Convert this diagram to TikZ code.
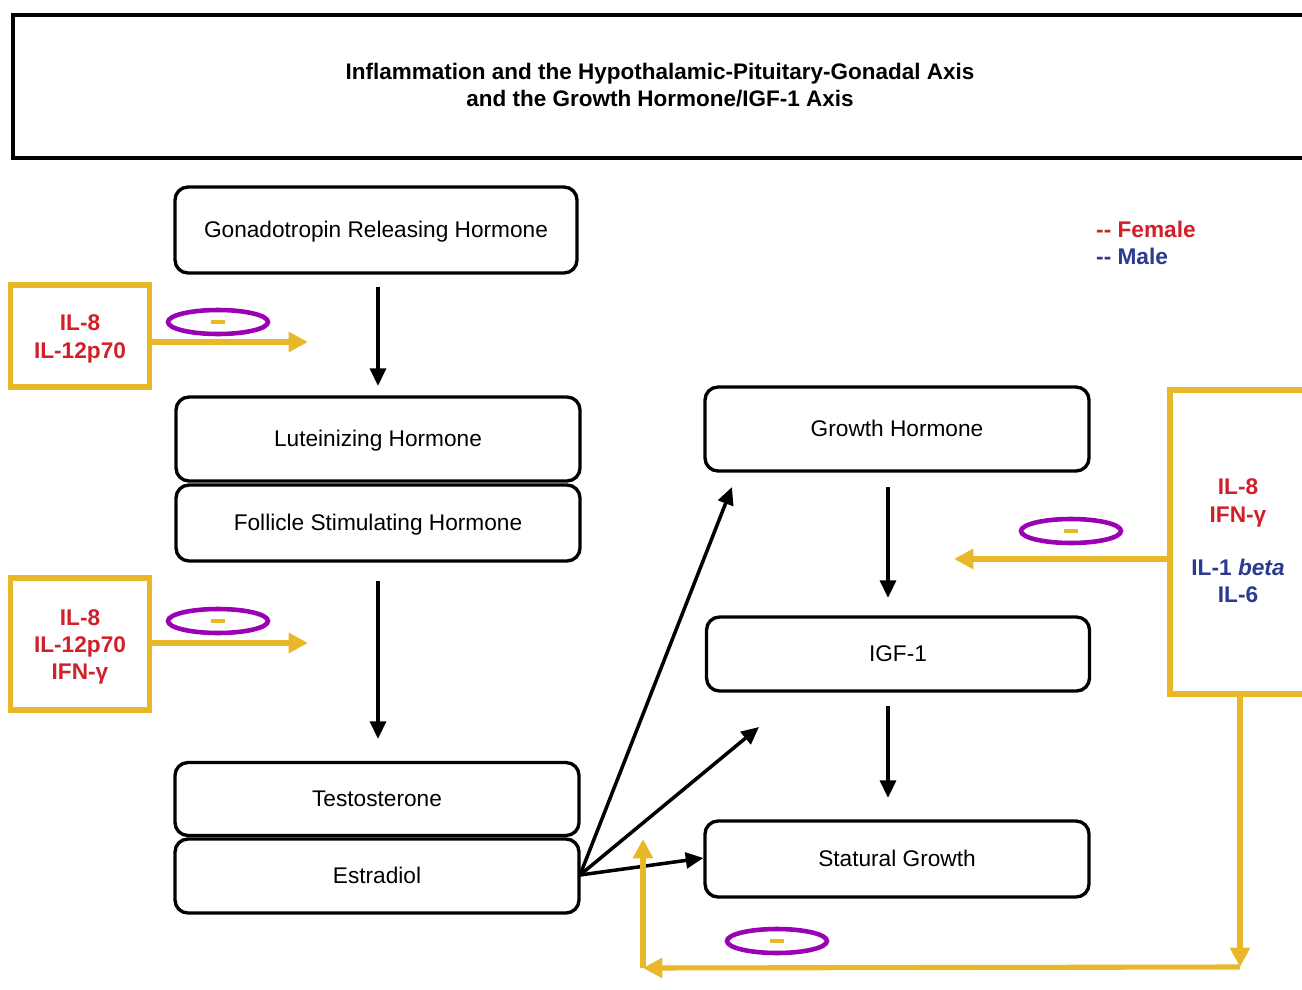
\documentclass[tikz,border=0pt]{standalone}
\usepackage{fontspec}
\setmainfont{Liberation Sans}
\usetikzlibrary{arrows.meta,shapes.geometric}
\definecolor{ygold}{HTML}{E8B828}
\definecolor{ipurple}{HTML}{9A00B4}
\definecolor{fred}{HTML}{D0202A}
\definecolor{mblue}{HTML}{2B3A90}
\tikzset{
  hbox/.style={draw=black, line width=1.9pt, rounded corners=0.26cm, fill=white,
    font=\fontsize{12.9}{15}\selectfont, inner sep=0pt, text height=0.8em, text depth=0pt},
  ybox/.style={draw=ygold, line width=3.4pt, fill=white, inner sep=0pt},
  ytxt/.style={font=\bfseries\fontsize{12.9}{15.5}\selectfont, align=center, text=fred},
  blk/.style={line width=2pt, -{Triangle[length=10pt,width=9pt]}},
  yarr/.style={draw=ygold, line width=2.9pt, -{Triangle[length=11pt,width=11pt]}},
  inhib/.style={draw=ipurple, line width=2.6pt, ellipse, minimum width=2.0cm, minimum height=0.48cm, inner sep=0pt},
  dashmark/.style={fill=ygold, minimum width=0.28cm, minimum height=0.09cm, inner sep=0pt},
  lgd/.style={anchor=west, font=\bfseries\fontsize{12.9}{15}\selectfont}
}
\begin{document}
\begin{tikzpicture}[x=0.02cm, y=-0.02cm]
\clip (0,0) rectangle (1302,990);
\fill[white] (0,0) rectangle (1302,990);
% title
\node[draw=black, line width=2.4pt, minimum width={1400*0.02cm}, minimum height={143*0.02cm}, anchor=north west, inner sep=0pt] (titlebox) at (11,13) {};
\node[font=\bfseries\fontsize{12.8}{15.5}\selectfont, align=center] (title) at (660,85) {Inflammation and the Hypothalamic-Pituitary-Gonadal Axis\\and the Growth Hormone/IGF-1 Axis};
% legend
\node[lgd, text=fred] (lf) at (1090,229) {-{}- Female};
\node[lgd, text=mblue] (lm) at (1090,256) {-{}- Male};
% HPG boxes
\node[hbox, minimum width={402*0.02cm}, minimum height={86*0.02cm}] (gnrh) at (376,230) {Gonadotropin Releasing Hormone};
\node[hbox, minimum width={404*0.02cm}, minimum height={84*0.02cm}] (lh) at (378,439) {Luteinizing Hormone};
\node[hbox, minimum width={404*0.02cm}, minimum height={76*0.02cm}] (fsh) at (378,523) {Follicle Stimulating Hormone};
\node[hbox, minimum width={404*0.02cm}, minimum height={73*0.02cm}] (testo) at (377,799) {Testosterone};
\node[hbox, minimum width={404*0.02cm}, minimum height={74*0.02cm}] (estr) at (377,876) {Estradiol};
% GH boxes
\node[hbox, minimum width={384*0.02cm}, minimum height={84*0.02cm}] (gh) at (897,429) {Growth Hormone};
\node[hbox, minimum width={383*0.02cm}, minimum height={74*0.02cm}] (igf) at (898,654) {IGF-1};
\node[hbox, minimum width={384*0.02cm}, minimum height={76*0.02cm}] (stat) at (897,859) {Statural Growth};
% black arrows
\coordinate (a1s) at (378,287); \coordinate (a1e) at (378,386);
\draw[blk] (a1s) -- (a1e);
\coordinate (a2s) at (378,581); \coordinate (a2e) at (378,739);
\draw[blk] (a2s) -- (a2e);
\coordinate (a3s) at (888,487); \coordinate (a3e) at (888,598);
\draw[blk] (a3s) -- (a3e);
\coordinate (a4s) at (888,706); \coordinate (a4e) at (888,798);
\draw[blk] (a4s) -- (a4e);
\coordinate (eo) at (580,875);
\coordinate (toGH) at (732,487);
\coordinate (toIGF) at (759,727);
\draw[blk] (eo) -- (toGH);
\draw[blk] (eo) -- (toIGF);
\draw[blk] (eo) -- (stat.west |- 0,858);
% left yellow boxes
\node[ybox, minimum width={139*0.02cm}, minimum height={102*0.02cm}] (y1) at (80,336) {};
\node[ytxt] (y1t) at (80,339) {IL-8\\IL-12p70};
\node[ybox, minimum width={139*0.02cm}, minimum height={132*0.02cm}] (y2) at (80,644) {};
\node[ytxt] (y2t) at (80,647) {IL-8\\IL-12p70\\IFN-γ};
\coordinate (y1e) at (308,342);
\coordinate (y2e) at (308,643);
\draw[yarr] (y1.east |- y1e) -- (y1e);
\draw[yarr] (y2.east |- y2e) -- (y2e);
\node[inhib] (e1) at (218,322) {};
\node[dashmark] (d1) at (e1.center) {};
\node[inhib] (e2) at (218,621) {};
\node[dashmark] (d2) at (e2.center) {};
% right yellow box
\node[ybox, minimum width={150*0.02cm}, minimum height={304*0.02cm}, anchor=north west] (y3) at (1167,387) {};
\node[ytxt] (y3f) at (1238,503) {IL-8\\IFN-γ};
\node[ytxt, text=mblue] (y3m) at (1238,581) {IL-1 \textit{beta}\\IL-6};
\coordinate (y3e) at (954,559);
\draw[yarr] (y3.west |- y3e) -- (y3e);
\node[inhib] (e3) at (1071,531) {};
\node[dashmark] (d3) at (e3.center) {};
% bottom feedback loop
\coordinate (c1) at (1240,967);
\coordinate (c2) at (643,968);
\coordinate (c3) at (643,839);
\draw[yarr] (y3.south -| c1) -- (c1);
\draw[yarr] (c1) -- (c2);
\draw[yarr] (c2) -- (c3);
\node[inhib] (e4) at (777,941) {};
\node[dashmark] (d4) at (e4.center) {};
\end{tikzpicture}
\end{document}
